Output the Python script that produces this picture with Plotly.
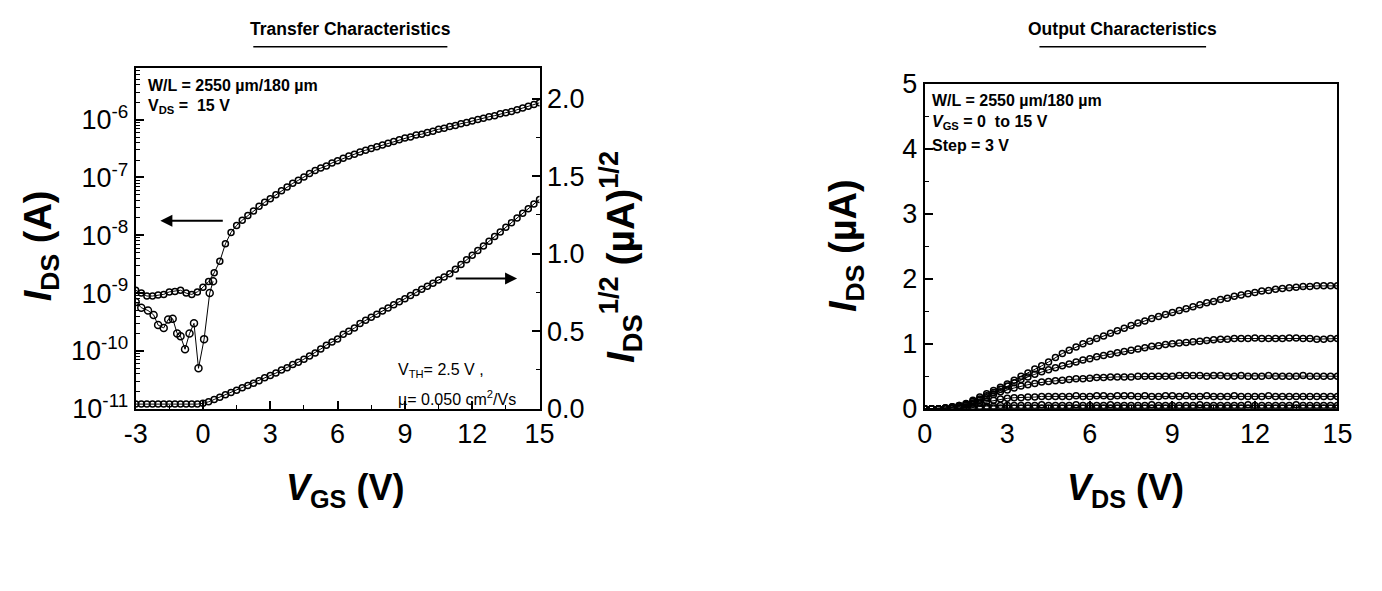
import plotly.graph_objects as go

# page size and the 8 px body margin of the html page
W, H = 1382, 591
OFF = 8
FW, FH = W - 2 * OFF, H - 2 * OFF
FONT = "Liberation Sans, Arial, sans-serif"

# ---- transfer characteristics, V_DS = 15 V ----
vgs = [-3.0, -2.75, -2.5, -2.25, -2.0, -1.75, -1.5, -1.25, -1.0, -0.75, -0.5, -0.25,
       0.0, 0.25, 0.5, 0.75, 1.0, 1.25, 1.5, 1.75, 2.0, 2.25, 2.5, 2.75,
       3.0, 3.25, 3.5, 3.75, 4.0, 4.25, 4.5, 4.75, 5.0, 5.25, 5.5, 5.75,
       6.0, 6.25, 6.5, 6.75, 7.0, 7.25, 7.5, 7.75, 8.0, 8.25, 8.5, 8.75,
       9.0, 9.25, 9.5, 9.75, 10.0, 10.25, 10.5, 10.75, 11.0, 11.25, 11.5, 11.75,
       12.0, 12.25, 12.5, 12.75, 13.0, 13.25, 13.5, 13.75, 14.0, 14.25, 14.5, 14.75, 15.0]

# drain current (A), log axis
ids_log = [1.12e-9, 1.0e-9, 8.9e-10, 8.9e-10, 9.3e-10, 9.5e-10, 1.05e-9, 1.07e-9, 1.12e-9, 1.0e-9, 9.5e-10, 1.05e-9,
           1.26e-9, 1.58e-9, 2.24e-9, 3.55e-9, 7.1e-9, 1.12e-8, 1.48e-8, 1.82e-8, 2.19e-8, 2.63e-8, 3.16e-8, 3.72e-8,
           4.27e-8, 5.0e-8, 5.9e-8, 6.8e-8, 7.9e-8, 8.9e-8, 1.02e-7, 1.17e-7, 1.32e-7, 1.45e-7, 1.58e-7, 1.78e-7,
           1.95e-7, 2.14e-7, 2.34e-7, 2.51e-7, 2.75e-7, 2.95e-7, 3.16e-7, 3.39e-7, 3.63e-7, 3.89e-7, 4.17e-7, 4.47e-7,
           4.79e-7, 5.0e-7, 5.4e-7, 5.6e-7, 6.0e-7, 6.3e-7, 6.8e-7, 7.1e-7, 7.6e-7, 7.9e-7, 8.5e-7, 8.9e-7,
           9.5e-7, 1.0e-6, 1.05e-6, 1.12e-6, 1.17e-6, 1.26e-6, 1.32e-6, 1.38e-6, 1.48e-6, 1.58e-6, 1.70e-6, 1.82e-6, 1.95e-6]

# sqrt(I_DS) in uA^1/2, right axis
ids_sqrt = [0.03, 0.03, 0.03, 0.03, 0.03, 0.03, 0.03, 0.03, 0.03, 0.03, 0.03, 0.03,
            0.035, 0.045, 0.06, 0.075, 0.09, 0.105, 0.12, 0.135, 0.15, 0.165, 0.18, 0.2,
            0.215, 0.23, 0.25, 0.265, 0.285, 0.3, 0.32, 0.34, 0.36, 0.385, 0.41, 0.43,
            0.45, 0.48, 0.5, 0.52, 0.55, 0.57, 0.59, 0.61, 0.63, 0.65, 0.67, 0.69,
            0.71, 0.73, 0.75, 0.77, 0.79, 0.81, 0.83, 0.85, 0.87, 0.9, 0.93, 0.96,
            0.99, 1.02, 1.05, 1.08, 1.11, 1.14, 1.17, 1.2, 1.23, 1.26, 1.29, 1.32, 1.35]

# noisy low-current branch
vgs_low = [-3.0, -2.75, -2.45, -2.2, -2.0, -1.75, -1.55, -1.35, -1.15, -1.0, -0.8, -0.6,
           -0.4, -0.2, 0.05, 0.3, 0.45]
ids_low = [7.0e-10, 5.6e-10, 5.0e-10, 4.2e-10, 2.8e-10, 2.5e-10, 3.5e-10, 3.6e-10, 2.0e-10, 1.8e-10, 1.07e-10, 2.0e-10,
           3.0e-10, 5.0e-11, 1.6e-10, 1.0e-9, 1.6e-9]

# ---- output characteristics, V_GS = 0..15 V step 3 V (I_DS in uA) ----
vds = [0.0, 0.25, 0.5, 0.75, 1.0, 1.25, 1.5, 1.75, 2.0, 2.25, 2.5, 2.75,
       3.0, 3.25, 3.5, 3.75, 4.0, 4.25, 4.5, 4.75, 5.0, 5.25, 5.5, 5.75,
       6.0, 6.25, 6.5, 6.75, 7.0, 7.25, 7.5, 7.75, 8.0, 8.25, 8.5, 8.75,
       9.0, 9.25, 9.5, 9.75, 10.0, 10.25, 10.5, 10.75, 11.0, 11.25, 11.5, 11.75,
       12.0, 12.25, 12.5, 12.75, 13.0, 13.25, 13.5, 13.75, 14.0, 14.25, 14.5, 14.75, 15.0]
ids_vg15 = [0.00, 0.00, 0.00, 0.01, 0.03, 0.05, 0.08, 0.13, 0.18, 0.23, 0.28, 0.33,
            0.38, 0.44, 0.50, 0.55, 0.61, 0.66, 0.72, 0.79, 0.85, 0.90, 0.95, 1.00,
            1.04, 1.08, 1.12, 1.16, 1.20, 1.24, 1.28, 1.32, 1.35, 1.39, 1.42, 1.45,
            1.48, 1.51, 1.54, 1.57, 1.60, 1.63, 1.65, 1.68, 1.70, 1.73, 1.75, 1.77,
            1.79, 1.81, 1.82, 1.84, 1.85, 1.86, 1.87, 1.88, 1.88, 1.89, 1.89, 1.89, 1.89]
ids_vg12 = [0.00, 0.00, 0.00, 0.01, 0.03, 0.05, 0.07, 0.11, 0.15, 0.20, 0.25, 0.30,
            0.35, 0.40, 0.45, 0.49, 0.53, 0.57, 0.60, 0.63, 0.66, 0.69, 0.72, 0.75,
            0.77, 0.80, 0.82, 0.84, 0.86, 0.88, 0.90, 0.92, 0.94, 0.96, 0.97, 0.99,
            1.00, 1.01, 1.02, 1.03, 1.04, 1.05, 1.06, 1.07, 1.07, 1.08, 1.08, 1.08,
            1.09, 1.08, 1.08, 1.08, 1.08, 1.09, 1.09, 1.08, 1.08, 1.07, 1.07, 1.08, 1.08]
ids_vg9 = [0.00, 0.00, 0.00, 0.01, 0.02, 0.04, 0.06, 0.09, 0.13, 0.17, 0.22, 0.26,
           0.29, 0.32, 0.35, 0.37, 0.39, 0.41, 0.42, 0.43, 0.44, 0.45, 0.46, 0.46,
           0.47, 0.48, 0.48, 0.49, 0.49, 0.49, 0.49, 0.50, 0.50, 0.50, 0.50, 0.50,
           0.50, 0.51, 0.51, 0.51, 0.51, 0.50, 0.51, 0.51, 0.50, 0.50, 0.51, 0.50,
           0.50, 0.50, 0.51, 0.50, 0.50, 0.50, 0.50, 0.51, 0.50, 0.50, 0.50, 0.50, 0.50]
ids_vg6 = [0.00, 0.00, 0.00, 0.01, 0.02, 0.03, 0.05, 0.07, 0.09, 0.11, 0.13, 0.15,
           0.16, 0.17, 0.17, 0.18, 0.18, 0.19, 0.19, 0.19, 0.19, 0.19, 0.20, 0.19,
           0.19, 0.20, 0.20, 0.19, 0.20, 0.20, 0.20, 0.19, 0.20, 0.19, 0.19, 0.20,
           0.20, 0.19, 0.20, 0.19, 0.19, 0.20, 0.19, 0.19, 0.19, 0.20, 0.19, 0.19,
           0.19, 0.19, 0.20, 0.19, 0.19, 0.19, 0.19, 0.19, 0.19, 0.19, 0.19, 0.19, 0.19]
ids_vg3 = [0.00, 0.00, 0.00, 0.00, 0.01, 0.01, 0.02, 0.03, 0.03, 0.04, 0.04, 0.05,
           0.05, 0.05, 0.05, 0.05, 0.05, 0.06, 0.05, 0.05, 0.05, 0.05, 0.06, 0.05,
           0.05, 0.05, 0.05, 0.06, 0.05, 0.05, 0.05, 0.05, 0.05, 0.06, 0.05, 0.05,
           0.05, 0.05, 0.05, 0.05, 0.06, 0.05, 0.05, 0.05, 0.05, 0.05, 0.05, 0.06,
           0.05, 0.05, 0.05, 0.05, 0.05, 0.05, 0.06, 0.05, 0.05, 0.05, 0.05, 0.05, 0.05]
ids_vg0 = [0.00, 0.00, 0.00, 0.00, 0.01, 0.01, 0.01, 0.01, 0.01, 0.01, 0.01, 0.01,
           0.01, 0.01, 0.01, 0.01, 0.01, 0.01, 0.01, 0.01, 0.01, 0.01, 0.01, 0.01,
           0.01, 0.01, 0.01, 0.01, 0.01, 0.01, 0.01, 0.01, 0.01, 0.01, 0.01, 0.01,
           0.01, 0.01, 0.01, 0.01, 0.01, 0.01, 0.01, 0.01, 0.01, 0.01, 0.01, 0.01,
           0.01, 0.01, 0.01, 0.01, 0.01, 0.01, 0.01, 0.01, 0.01, 0.01, 0.01, 0.01, 0.01]
out_curves = [ids_vg0, ids_vg3, ids_vg6, ids_vg9, ids_vg12, ids_vg15]

vgs_ticks = [-3, 0, 3, 6, 9, 12, 15]
vgs_ticktext = ['-3', '0', '3', '6', '9', '12', '15']


def px(x):
    return (x - OFF) / FW


def py(y):
    return 1 - (y - OFF) / FH


mk = dict(symbol='circle-open', size=6, color='black', line=dict(width=1.5, color='black'))
ln = dict(color='black', width=1)

fig = go.Figure()
fig.add_trace(go.Scatter(x=vgs, y=ids_log, mode='lines+markers', marker=mk, line=ln, xaxis='x', yaxis='y'))
fig.add_trace(go.Scatter(x=vgs_low, y=ids_low, mode='lines+markers',
                         marker=dict(symbol='circle-open', size=7, color='black', line=dict(width=1.5)),
                         line=ln, xaxis='x', yaxis='y'))
fig.add_trace(go.Scatter(x=vgs, y=ids_sqrt, mode='lines+markers', marker=mk, line=ln, xaxis='x', yaxis='y2'))
for c in out_curves:
    fig.add_trace(go.Scatter(x=vds, y=c, mode='lines+markers', marker=mk, line=ln, xaxis='x2', yaxis='y3'))

axis = dict(showline=True, linecolor='black', linewidth=2, ticks='inside', ticklen=8, tickwidth=1.5,
            tickcolor='black', showgrid=False, zeroline=False,
            tickfont=dict(family=FONT, size=27, color='black'))
minor = dict(ticks='inside', ticklen=4, tickwidth=1.2, tickcolor='black')

xl = [px(126), px(538)]
xr = [px(931), px(1352)]
yl = [py(415), py(55)]
yr = [py(415), py(72)]

minor_log = [k * 10.0 ** e for e in range(-11, -5) for k in range(2, 10)]

fig.update_layout(
    width=FW, height=FH, margin=dict(l=0, r=0, t=0, b=0),
    paper_bgcolor='white', plot_bgcolor='white', showlegend=False,
    xaxis=dict(axis, domain=xl, range=[-3, 15], tickvals=vgs_ticks, ticktext=vgs_ticktext, mirror=True,
               anchor='y', minor=dict(minor, tickvals=[-1.5, 1.5, 4.5, 7.5, 10.5, 13.5])),
    yaxis=dict(axis, domain=yl, type='log', range=[-11, -5.1], anchor='x',
               tickvals=[1e-11, 1e-10, 1e-9, 1e-8, 1e-7, 1e-6],
               ticktext=['10<sup>-11</sup>', '10<sup>-10</sup>', '10<sup>-9</sup>', '10<sup>-8</sup>',
                         '10<sup>-7</sup>', '10<sup>-6</sup>'],
               minor=dict(minor, tickvals=minor_log)),
    yaxis2=dict(axis, overlaying='y', side='right', anchor='x', range=[0, 2.2],
                tickvals=[0, 0.5, 1.0, 1.5, 2.0], ticktext=['0.0', '0.5', '1.0', '1.5', '2.0'],
                minor=dict(minor, tickvals=[0.25, 0.75, 1.25, 1.75])),
    xaxis2=dict(axis, domain=xr, range=[0, 15], tickvals=[0, 3, 6, 9, 12, 15], mirror=True, anchor='y3',
                minor=dict(minor, tickvals=[1.5, 4.5, 7.5, 10.5, 13.5])),
    yaxis3=dict(axis, domain=yr, range=[0, 5], tickvals=[0, 1, 2, 3, 4, 5], mirror=True, anchor='x2',
                minor=dict(minor, tickvals=[0.5, 1.5, 2.5, 3.5, 4.5])),
)

ann = []


def text(x, y, s, size, angle=0, anchor='center'):
    ann.append(dict(x=px(x), y=py(y), xref='paper', yref='paper', text=s, showarrow=False,
                    textangle=angle, xanchor=anchor, yanchor='middle',
                    font=dict(family=FONT, size=size, color='black')))


# panel titles
text(345, 14, '<b>Transfer Characteristics</b>', 17.5)
text(1133, 14, '<b>Output Characteristics</b>', 17.5)
# axis titles
text(29, 243, '<b><i>I</i><sub>DS</sub> (A)</b>', 38, angle=-90)
text(621, 255, '<b><i>I</i><sub>DS</sub><sup>1/2</sup> (µA)<sup>1/2</sup></b>', 39, angle=-90)
text(340, 501, '<b><i>V</i><sub>GS</sub> (V)</b>', 36)
text(850, 243, '<b><i>I</i><sub>DS</sub> (µA)</b>', 38, angle=-90)
text(1136, 501, '<b><i>V</i><sub>DS</sub> (V)</b>', 36)
# notes, transfer panel
text(137, 74, '<b>W/L = 2550 µm/180 µm</b>', 16, anchor='left')
text(137, 96, '<b>V<sub>DS</sub> =  15 V</b>', 16, anchor='left')
text(392, 375, 'V<sub>TH</sub>= 2.5 V ,', 16, anchor='left')
text(392, 404, 'µ= 0.050 cm<sup>2</sup>/Vs', 16, anchor='left')
# notes, output panel
text(936, 90, '<b>W/L = 2550 µm/180 µm</b>', 16, anchor='left')
text(936, 113, '<b><i>V</i><sub>GS</sub> = 0  to 15 V</b>', 16, anchor='left')
text(936, 137, '<b>Step = 3 V</b>', 16, anchor='left')

# direction arrows
ann.append(dict(x=-1.9, y=-7.75, xref='x', yref='y', ax=0.95, ay=-7.75, axref='x', ayref='y',
                showarrow=True, arrowhead=2, arrowsize=1.2, arrowwidth=2, arrowcolor='black', text=''))
ann.append(dict(x=14.0, y=0.84, xref='x', yref='y2', ax=11.2, ay=0.84, axref='x', ayref='y2',
                showarrow=True, arrowhead=2, arrowsize=1.2, arrowwidth=2, arrowcolor='black', text=''))
fig.update_layout(annotations=ann)

# title underlines
fig.add_shape(type='line', xref='paper', yref='paper', x0=px(246), x1=px(444), y0=py(33), y1=py(33),
              line=dict(color='black', width=1.5))
fig.add_shape(type='line', xref='paper', yref='paper', x0=px(1048), x1=px(1218), y0=py(33), y1=py(33),
              line=dict(color='black', width=1.5))

fig.write_html("out.html")
